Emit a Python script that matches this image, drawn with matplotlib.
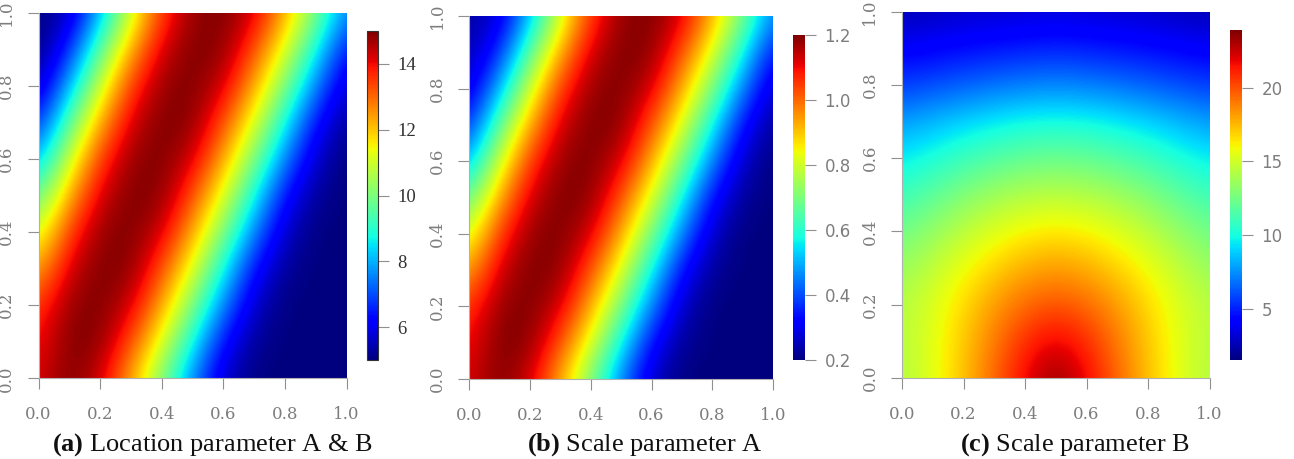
import numpy as np
import matplotlib
matplotlib.use('Agg')
import matplotlib.pyplot as plt

plt.rcParams['mathtext.fontset'] = 'custom'
plt.rcParams['mathtext.rm'] = 'Liberation Serif'
plt.rcParams['mathtext.bf'] = 'Liberation Serif:bold'

# grid nodes (x and y) the values below were read at
grid_x = [0.0, 0.1, 0.2, 0.3, 0.4, 0.5, 0.6, 0.7, 0.8, 0.9, 1.0]
grid_y = [0.0, 0.1, 0.2, 0.3, 0.4, 0.5, 0.6, 0.7, 0.8, 0.9, 1.0]

# (a) location parameter, rows from y=0 (bottom) to y=1 (top)
loc_ab = [
    [14.2, 15.0, 14.3, 12.3, 10.0, 7.5, 5.6, 5.0, 5.0, 5.0, 5.0],
    [13.9, 15.0, 14.9, 13.3, 11.2, 8.7, 6.3, 5.2, 5.0, 5.0, 5.0],
    [13.5, 14.8, 15.0, 14.3, 12.3, 10.0, 7.5, 5.6, 5.0, 5.0, 5.0],
    [12.3, 14.3, 15.0, 14.9, 13.3, 11.2, 8.7, 6.3, 5.2, 5.0, 5.0],
    [11.0, 13.5, 14.8, 15.0, 14.3, 12.3, 10.0, 7.5, 5.6, 5.0, 5.0],
    [9.6, 12.3, 14.3, 15.0, 14.9, 13.3, 11.2, 8.7, 6.3, 5.2, 5.0],
    [8.0, 11.0, 13.5, 14.8, 15.0, 14.3, 12.3, 10.0, 7.5, 5.6, 5.0],
    [6.6, 9.6, 12.3, 14.3, 15.0, 14.9, 13.3, 11.2, 8.7, 6.3, 5.2],
    [5.5, 8.0, 11.0, 13.5, 14.8, 15.0, 14.3, 12.3, 10.0, 7.5, 5.6],
    [5.0, 6.6, 9.6, 12.3, 14.3, 15.0, 14.9, 13.3, 11.2, 8.7, 6.3],
    [5.0, 5.5, 8.0, 11.0, 13.5, 14.8, 15.0, 14.3, 12.3, 10.0, 7.5],
]

# (b) scale parameter A
scale_a = [
    [1.12, 1.20, 1.13, 0.93, 0.70, 0.45, 0.26, 0.20, 0.20, 0.20, 0.20],
    [1.09, 1.20, 1.19, 1.03, 0.82, 0.57, 0.33, 0.22, 0.20, 0.20, 0.20],
    [1.05, 1.18, 1.20, 1.13, 0.93, 0.70, 0.45, 0.26, 0.20, 0.20, 0.20],
    [0.93, 1.13, 1.20, 1.19, 1.03, 0.82, 0.57, 0.33, 0.22, 0.20, 0.20],
    [0.80, 1.05, 1.18, 1.20, 1.13, 0.93, 0.70, 0.45, 0.26, 0.20, 0.20],
    [0.66, 0.93, 1.13, 1.20, 1.19, 1.03, 0.82, 0.57, 0.33, 0.22, 0.20],
    [0.50, 0.80, 1.05, 1.18, 1.20, 1.13, 0.93, 0.70, 0.45, 0.26, 0.20],
    [0.36, 0.66, 0.93, 1.13, 1.20, 1.19, 1.03, 0.82, 0.57, 0.33, 0.22],
    [0.27, 0.50, 0.80, 1.05, 1.18, 1.20, 1.13, 0.93, 0.70, 0.45, 0.26],
    [0.24, 0.36, 0.66, 0.93, 1.13, 1.20, 1.19, 1.03, 0.82, 0.57, 0.33],
    [0.23, 0.27, 0.50, 0.80, 1.05, 1.18, 1.20, 1.13, 0.93, 0.70, 0.45],
]

# (c) scale parameter B
scale_b = [
    [14.2, 15.5, 17.3, 19.5, 21.8, 23.6, 21.8, 19.5, 17.3, 15.5, 14.2],
    [14.3, 15.5, 17.1, 19.0, 20.9, 22.0, 20.9, 19.0, 17.1, 15.5, 14.3],
    [14.3, 15.3, 16.7, 18.2, 19.4, 20.0, 19.4, 18.2, 16.7, 15.3, 14.3],
    [13.5, 14.6, 15.8, 16.9, 17.8, 18.2, 17.8, 16.9, 15.8, 14.6, 13.5],
    [12.4, 13.4, 14.5, 15.4, 16.1, 16.4, 16.1, 15.4, 14.5, 13.4, 12.4],
    [11.0, 11.9, 12.9, 13.7, 14.2, 14.4, 14.2, 13.7, 12.9, 11.9, 11.0],
    [9.5, 10.2, 11.0, 11.6, 12.1, 12.3, 12.1, 11.6, 11.0, 10.2, 9.5],
    [7.8, 8.4, 9.0, 9.5, 9.9, 10.0, 9.9, 9.5, 9.0, 8.4, 7.8],
    [5.6, 6.0, 6.4, 6.8, 7.1, 7.3, 7.1, 6.8, 6.4, 6.0, 5.6],
    [4.0, 4.2, 4.5, 4.7, 4.9, 5.0, 4.9, 4.7, 4.5, 4.2, 4.0],
    [2.6, 2.8, 3.0, 3.1, 3.2, 3.3, 3.2, 3.1, 3.0, 2.8, 2.6],
]

axis_ticks = [0.0, 0.2, 0.4, 0.6, 0.8, 1.0]
axis_ticklabels = ['0.0', '0.2', '0.4', '0.6', '0.8', '1.0']

cbar_ticks_a = [6, 8, 10, 12, 14]
cbar_ticks_b = [0.2, 0.4, 0.6, 0.8, 1.0, 1.2]
cbar_ticklabels_b = ['0.2', '0.4', '0.6', '0.8', '1.0', '1.2']
cbar_ticks_c = [5, 10, 15, 20]

captions = [r'$\mathbf{(a)}$ Location parameter A & B',
            r'$\mathbf{(b)}$ Scale parameter A',
            r'$\mathbf{(c)}$ Scale parameter B']

GREY = '#7d7d7d'
W, H = 1294, 459


def px_rect(left, top, right, bottom):
    """pixel box -> figure fraction rect"""
    return [left / W, 1 - bottom / H, (right - left) / W, (bottom - top) / H]


def draw_panel(fig, rect, values, vmin, vmax):
    ax = fig.add_axes(rect)
    dx = grid_x[1] - grid_x[0]
    dy = grid_y[1] - grid_y[0]
    ext = [grid_x[0] - dx / 2, grid_x[-1] + dx / 2, grid_y[0] - dy / 2, grid_y[-1] + dy / 2]
    im = ax.imshow(np.array(values), origin='lower', extent=ext, cmap='jet',
                   vmin=vmin, vmax=vmax, interpolation='bicubic',
                   interpolation_stage='data', aspect='auto')
    ax.set_xlim(0, 1)
    ax.set_ylim(0, 1)
    for side in ['top', 'right']:
        ax.spines[side].set_visible(False)
    for side in ['left', 'bottom']:
        ax.spines[side].set_color('#b0b0b0')
        ax.spines[side].set_linewidth(0.8)
    ax.set_xticks(axis_ticks)
    ax.set_xticklabels(axis_ticklabels)
    ax.set_yticks(axis_ticks)
    ax.set_yticklabels(axis_ticklabels)
    ax.tick_params(axis='both', length=8, width=0.8, color='#909090',
                   labelcolor=GREY, labelsize=12)
    ax.tick_params(axis='x', pad=12)
    ax.tick_params(axis='y', pad=9)
    for lab in ax.get_xticklabels() + ax.get_yticklabels():
        lab.set_family('DejaVu Serif')
    for lab in ax.get_yticklabels():
        lab.set_rotation(90)
        lab.set_va('center')
    return im


def draw_cbar(fig, im, rect, ticks, labels=None, family='DejaVu Sans', color=GREY,
              size=12, outline=False):
    cax = fig.add_axes(rect)
    cb = fig.colorbar(im, cax=cax)
    cb.set_ticks(ticks)
    if labels is not None:
        cb.set_ticklabels(labels)
    cb.outline.set_visible(outline)
    cb.outline.set_linewidth(0.8)
    cb.outline.set_edgecolor('#333333')
    cax.tick_params(length=8, width=0.8, color='#909090', labelcolor=color,
                    labelsize=size, pad=6)
    for lab in cax.get_yticklabels():
        lab.set_family(family)
    return cb


fig = plt.figure(figsize=(W / 100, H / 100), dpi=100)

im_a = draw_panel(fig, px_rect(38.5, 12.7, 346.5, 378.3), loc_ab, 5, 15)
draw_cbar(fig, im_a, px_rect(367, 31, 378, 360), cbar_ticks_a,
          family='Liberation Serif', color='#333333', size=13.5, outline=True)

im_b = draw_panel(fig, px_rect(469.3, 16, 773, 379), scale_a, 0.2, 1.2)
draw_cbar(fig, im_b, px_rect(793, 35, 805, 360), cbar_ticks_b, cbar_ticklabels_b)

im_c = draw_panel(fig, px_rect(902, 11.7, 1209.5, 378), scale_b, 1.55, 23.9)
draw_cbar(fig, im_c, px_rect(1230, 30, 1242, 360), cbar_ticks_c)

for cx, cap in zip([212, 645, 1075], captions):
    fig.text(cx / W, 1 - 451 / H, cap, ha='center', va='baseline',
             family='Liberation Serif', fontsize=19, color='#111111')

fig.savefig('out.png', dpi=100)
